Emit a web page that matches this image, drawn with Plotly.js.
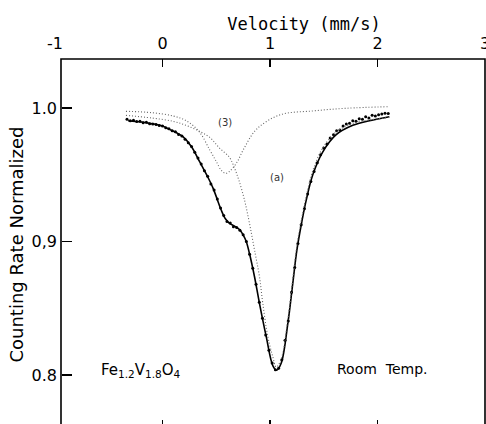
<!DOCTYPE html>
<html>
<head>
<meta charset="utf-8">
<script src="https://cdn.plot.ly/plotly-3.0.1.min.js"></script>
<style>
html,body{margin:0;padding:0;overflow:hidden;background:#fff;}
#chart{width:486px;height:440px;}
</style>
</head>
<body>
<div id="chart"></div>
<script>
// Fitted total curve (solid)
const velFit = [-0.32,-0.2,-0.12,0.0,0.065,0.13,0.19,0.27,0.344,0.42,0.47,0.50,0.546,0.585,0.623,0.67,0.716,0.75,0.779,0.809,0.856,0.902,0.965,1.026,1.06,1.104,1.166,1.212,1.25,1.296,1.337,1.398,1.49,1.616,1.77,1.926,2.11];
const rateFit = [0.9905,0.9895,0.9885,0.9865,0.984,0.9815,0.9785,0.971,0.960,0.9485,0.940,0.9336,0.9236,0.917,0.9136,0.9115,0.909,0.905,0.900,0.891,0.8736,0.8537,0.8287,0.807,0.8035,0.8088,0.8387,0.8687,0.8936,0.9148,0.931,0.950,0.967,0.980,0.987,0.9905,0.9935];

// Measured points
const velData = [-0.33,-0.30,-0.27,-0.24,-0.21,-0.18,-0.15,-0.12,-0.09,-0.06,-0.03,0.00,0.03,0.06,0.09,0.12,0.15,0.18,0.21,0.24,0.27,0.30,0.33,0.36,0.39,0.42,0.45,0.48,0.51,0.54,0.57,0.60,0.63,0.66,0.69,0.72,0.75,0.78,0.81,0.84,0.87,0.90,0.93,0.96,0.99,1.02,1.05,1.08,1.11,1.14,1.17,1.20,1.23,1.26,1.29,1.32,1.35,1.38,1.41,1.44,1.47,1.50,1.53,1.56,1.59,1.62,1.65,1.68,1.71,1.74,1.77,1.80,1.83,1.86,1.89,1.92,1.95,1.98,2.01,2.04,2.07,2.10];
const rateData = [0.9915,0.9905,0.9908,0.9898,0.9900,0.9890,0.9893,0.9882,0.9880,0.9876,0.9868,0.9866,0.9852,0.9845,0.9830,0.9822,0.9802,0.9790,0.9765,0.9740,0.9712,0.9668,0.9625,0.9580,0.9530,0.9488,0.9430,0.9385,0.9318,0.9250,0.9195,0.9150,0.9138,0.9110,0.9105,0.9085,0.9050,0.9000,0.8905,0.8800,0.8680,0.8545,0.8425,0.8300,0.8185,0.8090,0.8040,0.8050,0.8115,0.8260,0.8405,0.8620,0.8805,0.8985,0.9125,0.9245,0.9355,0.9450,0.9525,0.9590,0.9650,0.9700,0.9730,0.9775,0.9800,0.9830,0.9835,0.9865,0.9880,0.9885,0.9905,0.9900,0.9920,0.9915,0.9935,0.9925,0.9945,0.9940,0.9950,0.9955,0.9960,0.9958];

// Component (a) (dotted)
const velA = [-0.34,-0.1,0.1,0.22,0.344,0.44,0.53,0.623,0.67,0.71,0.763,0.809,0.856,0.902,0.933,0.98,1.026,1.057,1.10,1.166,1.212,1.25,1.296,1.337,1.398,1.49,1.616,1.77,1.926,2.11];
const rateA = [0.9945,0.9925,0.990,0.987,0.9825,0.978,0.970,0.963,0.955,0.946,0.931,0.9136,0.8936,0.8736,0.8537,0.8287,0.8137,0.806,0.811,0.842,0.872,0.897,0.918,0.934,0.953,0.970,0.982,0.9885,0.991,0.993];

// Component (3) (dotted)
const velB = [-0.34,-0.1,0.1,0.22,0.344,0.44,0.50,0.55,0.59,0.63,0.69,0.76,0.874,1.09,1.40,1.71,2.11];
const rateB = [0.9975,0.9965,0.994,0.9905,0.982,0.9685,0.960,0.953,0.951,0.953,0.959,0.970,0.984,0.9948,0.9978,0.9998,1.001];

const yTickVals = [0.8, 0.9, 1.0];
const yTickText = ['0.8', '0,9', '1.0'];
const xTickVals = [0, 1, 2];
const xTopLabels = [-1, 0, 1, 2, 3];

const xRange = [-1, 3];
const yRange = [0.7588, 1.0367];
const yPos = 6 / 430;

const dotLine = {color: '#666', width: 1.1, dash: '1px,2px', shape: 'spline'};

const traces = [
  {x: velB, y: rateB, xaxis: 'x2', yaxis: 'y', mode: 'lines', line: dotLine, hoverinfo: 'skip'},
  {x: velA, y: rateA, xaxis: 'x3', yaxis: 'y', mode: 'lines', line: dotLine, hoverinfo: 'skip'},
  {x: velFit, y: rateFit, mode: 'lines', line: {color: '#000', width: 1.6, shape: 'spline'}},
  {x: velData, y: rateData, mode: 'markers', marker: {color: '#000', size: 3}}
];

const layout = {
  width: 486, height: 440,
  margin: {l: 55, r: 1, t: 59, b: 10},
  paper_bgcolor: '#fff', plot_bgcolor: '#fff',
  showlegend: false,
  font: {family: 'DejaVu Sans', color: '#000', size: 16},
  title: {text: 'Velocity (mm/s)', font: {family: 'DejaVu Sans Mono', size: 17, color: '#000'},
          x: 0.6255, xanchor: 'center', xref: 'container', y: 1 - 24/440, yanchor: 'middle', yref: 'container'},
  // bottom axis: inward ticks
  xaxis: {range: xRange, tickvals: xTickVals, ticks: 'inside', ticklen: 10, tickwidth: 1.2, tickcolor: '#000',
          showticklabels: false, showline: false, showgrid: false, zeroline: false, anchor: 'y'},
  // top axis: inward ticks
  xaxis2: {range: xRange, overlaying: 'x', side: 'top', tickvals: xTickVals, ticks: 'inside', ticklen: 8, tickwidth: 1.2,
           tickcolor: '#000', showticklabels: false, showline: false, showgrid: false, zeroline: false, anchor: 'y'},
  // top axis: labels
  xaxis3: {range: xRange, overlaying: 'x', side: 'top', tickvals: xTopLabels,
           ticktext: xTopLabels.map(v => v < 0 ? '-' + Math.abs(v) : String(v)),
           ticks: '', showline: false, showgrid: false, zeroline: false, ticklabelstandoff: 6, ticklabeloverflow: 'allow',
           tickfont: {family: 'DejaVu Sans', size: 16, color: '#000'}, anchor: 'y'},
  yaxis: {range: yRange, anchor: 'free', position: yPos, tickvals: yTickVals, ticktext: yTickText,
          ticks: 'inside', ticklen: 10, tickwidth: 1.2, tickcolor: '#000', showline: false, showgrid: false, zeroline: false,
          ticklabelstandoff: 4, tickfont: {family: 'DejaVu Sans', size: 16, color: '#000'},
          title: {text: 'Counting Rate Normalized', font: {family: 'DejaVu Sans', size: 18, color: '#000'}, standoff: 2}},
  shapes: [
    {type: 'rect', xref: 'paper', yref: 'paper', x0: yPos, x1: 1, y0: 0, y1: 1,
     line: {color: '#000', width: 1.6}, fillcolor: 'rgba(0,0,0,0)'}
  ],
  annotations: [
    {x: 0.58, y: 0.9888, xref: 'x', yref: 'y', text: '(3)', showarrow: false, font: {size: 10, color: '#333'}},
    {x: 1.065, y: 0.9476, xref: 'x', yref: 'y', text: '(a)', showarrow: false, font: {size: 10, color: '#333'}},
    {x: -0.2, y: 0.8037, xref: 'x', yref: 'y', text: 'Fe<sub>1.2</sub>V<sub>1.8</sub>O<sub>4</sub>', showarrow: false, font: {size: 15, color: '#000'}},
    {x: 2.05, y: 0.8045, xref: 'x', yref: 'y', text: 'Room  Temp.', showarrow: false, font: {size: 14, color: '#000'}}
  ]
};

Plotly.newPlot('chart', traces, layout, {displayModeBar: false, staticPlot: true});
</script>
</body>
</html>
